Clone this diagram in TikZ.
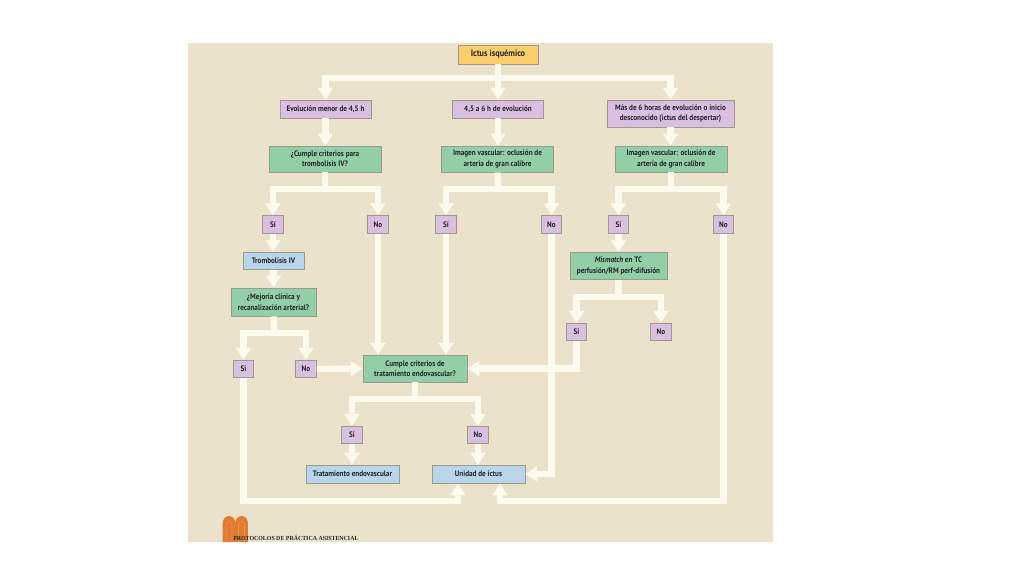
\documentclass[tikz,border=0pt]{standalone}
\usepackage{fontspec}
\setmainfont[FakeStretch=0.9]{PT Sans}
\newfontfamily\logofont[FakeStretch=0.95]{Liberation Serif}
\usetikzlibrary{arrows.meta}
\definecolor{paper}{HTML}{EBE2CC}
\definecolor{flowcol}{HTML}{FDFBEE}
\definecolor{startcol}{HTML}{FCCF6C}
\definecolor{timecol}{HTML}{DABFE0}
\definecolor{askcol}{HTML}{93CFA6}
\definecolor{actcol}{HTML}{B9D5E9}
\definecolor{edgecol}{HTML}{9A9A90}
\definecolor{inkcol}{HTML}{23262A}
\definecolor{logocol}{HTML}{E27A32}
\tikzset{
  box/.style={draw=edgecol,line width=0.02cm,text=inkcol,align=center,inner sep=0pt,font=\bfseries\fontsize{5.9pt}{7.7pt}\selectfont},
  startbox/.style={box,fill=startcol,minimum width=2.08cm,minimum height=0.50cm,font=\bfseries\fontsize{6.8pt}{8pt}\selectfont},
  timebox/.style={box,fill=timecol,minimum width=2.37cm,minimum height=0.47cm},
  askbox/.style={box,fill=askcol,minimum width=2.92cm,minimum height=0.68cm},
  actbox/.style={box,fill=actcol,minimum width=2.42cm,minimum height=0.47cm},
  yesno/.style={box,fill=timecol,minimum width=0.53cm,minimum height=0.46cm},
  flow/.style={draw=flowcol,line width=0.16cm,-{Triangle[length=0.31cm,width=0.38cm]}},
  trunk/.style={draw=flowcol,line width=0.16cm}
}
\begin{document}
\begin{tikzpicture}[x=0.0260417cm,y=-0.0260417cm]
\useasboundingbox (0,0) rectangle (1024,576);
\fill[white] (0,0) rectangle (1024,576);
\fill[paper] (187.5,43) rectangle (773,542);

\node[startbox] (ictus) at (498,54.5) {Ictus isquémico};
\node[timebox] (evolA) at (325.5,109) {Evolución menor de 4,5 h};
\node[timebox] (evolB) at (498,109) {4,5 a 6 h de evolución};
\node[timebox,minimum width=3.31cm,minimum height=0.70cm] (evolC) at (670.5,113.5) {Más de 6 horas de evolución o inicio\\desconocido (ictus del despertar)};
\node[askbox] (askA) at (325,159) {¿Cumple criterios para\\trombolisis IV?};
\node[askbox] (askB) at (497.5,159) {Imagen vascular: oclusión de\\arteria de gran calibre};
\node[askbox] (askC) at (671,159) {Imagen vascular: oclusión de\\arteria de gran calibre};

\node[yesno] (siA) at (273,224.5) {Sí};
\node[yesno] (noA) at (378,224.5) {No};
\node[yesno] (siB) at (446,224.5) {Sí};
\node[yesno] (noB) at (551.5,224.5) {No};
\node[yesno] (siC) at (618.5,224.5) {Sí};
\node[yesno] (noC) at (723.5,224.5) {No};

\node[actbox,minimum width=1.59cm,minimum height=0.46cm] (tromb) at (273.5,261) {Trombolisis IV};
\node[askbox,minimum width=2.21cm,minimum height=0.73cm] (mejora) at (273.5,302) {¿Mejoría clínica y\\recanalización arterial?};
\node[askbox,minimum width=2.53cm,minimum height=0.70cm] (mismatch) at (618.5,266) {\textit{Mismatch} en TC\\perfusión/RM perf-difusión};
\node[yesno] (siD) at (243.5,369) {Sí};
\node[yesno] (noD) at (306,369) {No};
\node[yesno] (siE) at (576.5,332) {Sí};
\node[yesno] (noE) at (661,332) {No};
\node[askbox,minimum width=2.71cm,minimum height=0.70cm] (endo) at (415,368.5) {Cumple criterios de\\tratamiento endovascular?};
\node[yesno] (siF) at (352,435) {Sí};
\node[yesno] (noF) at (478,435) {No};
\node[actbox] (trat) at (352.5,474) {Tratamiento endovascular};
\node[actbox] (unidad) at (478.5,474) {Unidad de ictus};

\coordinate (busA) at (498,78);
\coordinate (busB) at (325,189);
\coordinate (busC) at (498,189);
\coordinate (busD) at (671,189);
\coordinate (busE) at (274.5,333);
\coordinate (busF) at (618.5,297);
\coordinate (busG) at (415,399);
\coordinate (backA) at (458,501);
\coordinate (backB) at (500,501);

\draw[trunk] (ictus.south) -- (busA);
\draw[flow] (busA) -| (evolA.north);
\draw[flow] (busA) -- (evolB.north);
\draw[flow] (busA) -| (evolC.north);
\draw[flow] (evolA.south) -- (evolA.south |- askA.north);
\draw[flow] (evolB.south) -- (evolB.south |- askB.north);
\draw[flow] (evolC.south) -- (evolC.south |- askC.north);

\draw[trunk] (askA.south) -- (busB);
\draw[flow] (busB) -| (siA.north);
\draw[flow] (busB) -| (noA.north);
\draw[trunk] (askB.south) -- (busC);
\draw[flow] (busC) -| (siB.north);
\draw[flow] (busC) -| (noB.north);
\draw[trunk] (askC.south) -- (busD);
\draw[flow] (busD) -| (siC.north);
\draw[flow] (busD) -| (noC.north);

\draw[flow] (siA.south) -- (siA.south |- tromb.north);
\draw[flow] (tromb.south) -- (mejora.north);
\draw[trunk] (mejora.south) -- (busE);
\draw[flow] (busE) -| (siD.north);
\draw[flow] (busE) -| (noD.north);
\draw[flow] (siC.south) -- (mismatch.north);
\draw[trunk] (mismatch.south) -- (busF);
\draw[flow] (busF) -| (siE.north);
\draw[flow] (busF) -| (noE.north);

\draw[flow] (noA.south) -- (noA.south |- endo.north);
\draw[flow] (siB.south) -- (siB.south |- endo.north);
\draw[flow] (noD.east) -- (endo.west);
\draw[flow] (noB.south) |- (unidad.east);
\draw[flow] (siE.south) |- (endo.east);
\draw[trunk] (endo.south) -- (busG);
\draw[flow] (busG) -| (siF.north);
\draw[flow] (busG) -| (noF.north);
\draw[flow] (siF.south) -- (siF.south |- trat.north);
\draw[flow] (noF.south) -- (noF.south |- unidad.north);
\draw[flow] (siD.south) |- (backA) -- (backA |- unidad.south);
\draw[flow] (noC.south) |- (backB) -- (backB |- unidad.south);

% logo
\fill[logocol] (222.7,542) -- (222.7,523) arc[start angle=180,end angle=0,x radius=6.3,y radius=-7] -- (235.3,523) arc[start angle=180,end angle=0,x radius=6.3,y radius=-7] -- (247.9,542) -- cycle;
\draw[logocol!75!paper,line width=0.015cm] (226,542) -- (226,525) arc[start angle=180,end angle=0,x radius=3,y radius=-4] -- (232,542);
\draw[logocol!75!paper,line width=0.015cm] (238.5,542) -- (238.5,525) arc[start angle=180,end angle=0,x radius=3,y radius=-4] -- (244.5,542);
\node[font=\logofont\bfseries\fontsize{4.6pt}{6pt}\selectfont,text=black!85,anchor=west,inner sep=0pt] (pie) at (233,538) {PROTOCOLOS DE PRÁCTICA ASISTENCIAL};
\end{tikzpicture}
\end{document}
